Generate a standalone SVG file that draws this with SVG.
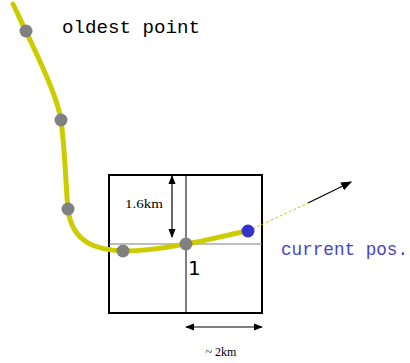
<svg xmlns="http://www.w3.org/2000/svg" width="410" height="363" viewBox="0 0 410 363">
<defs>
<style>
.track{fill:none;stroke:#cccc00;stroke-width:5;stroke-linecap:round}
.pt{fill:#808080}
.thin{stroke:#000;stroke-width:1;fill:none}
.dim{stroke:#000;stroke-width:1.2;fill:none;marker-start:url(#ah);marker-end:url(#ah)}
.mono{font-family:"Liberation Mono","Courier New",monospace}
.serif{font-family:"Liberation Serif","Times New Roman",serif}
</style>
<marker id="ah" viewBox="0 0 10 10" refX="9" refY="5" markerWidth="9" markerHeight="9" markerUnits="userSpaceOnUse" orient="auto-start-reverse">
<path d="M0,1 L10,5 L0,9 Z" fill="#000"/>
</marker>
<marker id="ah2" viewBox="0 0 10 10" refX="9" refY="5" markerWidth="11" markerHeight="11" markerUnits="userSpaceOnUse" orient="auto">
<path d="M0,1 L10,5 L0,9 Z" fill="#000"/>
</marker>
</defs>
<rect width="410" height="363" fill="#fff"/>
<g id="grid">
<rect x="109" y="175" width="153" height="138" fill="none" stroke="#000" stroke-width="2"/>
<line x1="186" y1="175" x2="186" y2="313" class="thin"/>
<line x1="109" y1="244" x2="262" y2="244" stroke="#808080" stroke-width="1.2"/>
</g>
<g id="connectors">
<path class="track" d="M13,4 C18,14 22,24 26,31 C38,58 57,95 61,120 C65,150 66,190 68,209 C72,245 100,250 123,251 C150,251 170,247 186,244 C210,240 230,234 248,231"/>
<line x1="248" y1="231" x2="308" y2="203" stroke="#cccc00" stroke-width="1" stroke-dasharray="3,2"/>
<line x1="308" y1="203" x2="351" y2="182" stroke="#000" stroke-width="1.2" marker-end="url(#ah2)"/>
<line x1="172" y1="176" x2="172" y2="237" class="dim"/>
<line x1="186" y1="327" x2="262" y2="327" class="dim"/>
</g>
<g id="points">
<circle class="pt" cx="26" cy="31" r="6.5"/>
<circle class="pt" cx="61" cy="120" r="6.5"/>
<circle class="pt" cx="68" cy="209" r="6.5"/>
<circle class="pt" cx="123" cy="251" r="6.5"/>
<circle class="pt" cx="186" cy="244" r="6.5"/>
<circle cx="248" cy="231" r="6.5" fill="#3333cc"/>
</g>
<g id="labels">
<text x="62" y="33" class="mono" font-size="18" fill="#000" textLength="138" lengthAdjust="spacingAndGlyphs">oldest point</text>
<text x="281" y="255" class="mono" font-size="18" fill="#4444cc" textLength="127" lengthAdjust="spacingAndGlyphs">current pos.</text>
<text x="125" y="208" class="serif" font-size="12" fill="#000" textLength="38" lengthAdjust="spacingAndGlyphs">1.6km</text>
<text x="188" y="275" font-family="DejaVu Sans,sans-serif" font-size="20" fill="#000">1</text>
<text x="221" y="356" class="serif" font-size="12" fill="#000" text-anchor="middle">~ 2km</text>
</g>
</svg>
